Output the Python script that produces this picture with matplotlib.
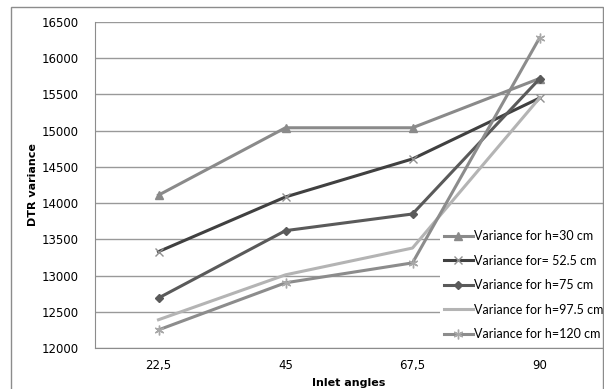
import matplotlib
matplotlib.use('Agg')
import matplotlib.pyplot as plt
from matplotlib.patches import Rectangle

angles = ['22,5', '45', '67,5', '90']
h30 = [14110, 15040, 15040, 15720]
h52 = [13330, 14085, 14610, 15450]
h75 = [12690, 13620, 13850, 15715]
h97 = [12390, 13010, 13380, 15450]
h120 = [12250, 12900, 13175, 16280]

labels = ['Variance for h=30 cm', 'Variance for= 52.5 cm', 'Variance for h=75 cm',
          'Variance for h=97.5 cm', 'Variance for h=120 cm']

fig = plt.figure(figsize=(6.04, 3.89), dpi=100)
ax = fig.add_axes([95/604, 1-348/389, 508/604, 326/389])

x = range(len(angles))
ax.plot(x, h30, color='#8a8a8a', lw=2.2, marker='^', ms=6, label=labels[0])
ax.plot(x, h52, color='#404040', lw=2.2, marker='x', ms=6, mew=1, mec='#909090', label=labels[1])
ax.plot(x, h75, color='#5a5a5a', lw=2.2, marker='D', ms=4.5, label=labels[2])
ax.plot(x, h97, color='#b4b4b4', lw=2.2, label=labels[3])
ax.plot(x, h120, color='#8c8c8c', lw=2.2, marker=(6, 2, 0), ms=7, mew=1, mec='#a8a8a8', label=labels[4])

ax.set_xlim(-0.5, 3.5)
ax.set_ylim(12000, 16500)
ax.set_yticks(range(12000, 16501, 500))
ax.set_xticks(list(x))
ax.set_xticklabels(angles)
ax.grid(axis='y', color='#999999', lw=1)
ax.set_axisbelow(True)
ax.tick_params(length=0, labelsize=8.5, pad=12)
ax.tick_params(axis='x', pad=8)
for s in ['top', 'right']:
    ax.spines[s].set_visible(False)
ax.spines['left'].set_color('#8c8c8c')
ax.spines['bottom'].set_color('#8c8c8c')

ax.set_xlabel('Inlet angles', fontsize=8, fontweight='bold', labelpad=4)
ax.set_ylabel('DTR variance', fontsize=8, fontweight='bold', labelpad=2)

leg = ax.legend(loc='lower left', bbox_to_anchor=(345/508, 0.012), frameon=True,
                prop={'family': 'Lato', 'size': 9},
                handlelength=2.3, handletextpad=0.15, labelspacing=1.0, borderaxespad=0,
                borderpad=0.3)
leg.get_frame().set_edgecolor('none')
leg.get_frame().set_facecolor('white')
leg.get_frame().set_alpha(1)

fig.patches.append(Rectangle((11/604, -0.01), 592/604, 1-7/389+0.01, transform=fig.transFigure,
                             fill=False, edgecolor='#8c8c8c', lw=1))

fig.savefig('out.png', dpi=100)
